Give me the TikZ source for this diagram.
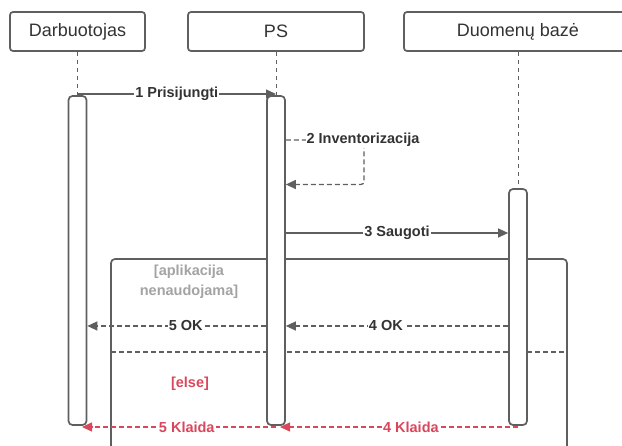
\documentclass[tikz,border=0pt]{standalone}
\usepackage{fontspec}
\setmainfont{Liberation Sans}
\usetikzlibrary{arrows.meta}
\definecolor{linegray}{HTML}{5F5F5F}
\definecolor{txtgray}{HTML}{333333}
\definecolor{guardgray}{HTML}{A3A3A3}
\definecolor{errred}{HTML}{D9475D}
\begin{document}
\begin{tikzpicture}[x=1pt,y=-1pt,
  headbox/.style={draw=linegray,line width=1.7pt,rounded corners=3pt,fill=white,
    minimum height=39pt,inner sep=0pt,text=txtgray,font=\fontsize{18}{20}\selectfont},
  actbar/.style={draw=linegray,line width=1.7pt,rounded corners=4pt,fill=white,
    minimum width=18pt,inner sep=0pt},
  lifeline/.style={draw=linegray,line width=0.9pt,dash pattern=on 4pt off 4pt},
  msg/.style={draw=linegray,line width=1.3pt,-{Triangle[length=10pt,width=9pt]}},
  retmsg/.style={msg,dash pattern=on 5pt off 3pt},
  errmsg/.style={draw=errred,line width=1.3pt,dash pattern=on 5pt off 3pt,
    -{Triangle[length=10pt,width=9pt]}},
  lbl/.style={fill=white,inner sep=1pt,text=txtgray,font=\bfseries\fontsize{14.5}{16}\selectfont},
  errlbl/.style={lbl,text=errred},
  guard/.style={align=center,inner sep=0pt,font=\bfseries\fontsize{14.5}{19.5}\selectfont}
]
\useasboundingbox (0,0) rectangle (622,446);
\clip (0,0) rectangle (622,446);

% participants
\node[headbox,minimum width=135pt] (hd) at (77.5,31.5) {Darbuotojas};
\node[headbox,minimum width=176pt] (hp) at (276,31.5) {PS};
\node[headbox,minimum width=228pt] (hb) at (518,31.5) {Duomenų bazė};

% message levels and helper points
\coordinate (y1) at (0,94);
\coordinate (y2a) at (0,140);
\coordinate (y2b) at (0,184.5);
\coordinate (loop) at (364,0);
\coordinate (y3) at (0,233);
\coordinate (y4) at (0,326);
\coordinate (ydiv) at (0,352);
\coordinate (y5) at (0,427);
\coordinate (lifeend) at (0,420);

% lifelines
\draw[lifeline] (hd.south) -- (hd.south |- lifeend);
\draw[lifeline] (hp.south) -- (hp.south |- lifeend);
\draw[lifeline] (hb.south) -- (hb.south |- lifeend);

% alt fragment
\draw[draw=linegray,line width=1.7pt,rounded corners=4pt] (111,259) rectangle (567,470);
\coordinate (fl) at (111,0);
\coordinate (fr) at (567,0);
\draw[draw=linegray,line width=1.3pt,dash pattern=on 5pt off 3pt] (fl |- ydiv) -- (fr |- ydiv);
\node[guard,text=guardgray] (g1) at (189,282) {[aplikacija\\nenaudojama]};
\node[guard,text=errred] (g2) at (190,384) {[else]};

% activation bars
\node[actbar,minimum height=329pt] (bd) at (77.5,260.5) {};
\node[actbar,minimum height=329pt] (bp) at (276,260.5) {};
\node[actbar,minimum height=236pt] (bb) at (518,307) {};

% 1 Prisijungti
\draw[msg] (bd.north |- y1) -- (bp.north |- y1)
  node[lbl,pos=0.5] (m1) {1 Prisijungti};

% 2 Inventorizacija (self call)
\draw[retmsg,rounded corners=3pt] (bp.east |- y2a) -- (loop |- y2a) -- (loop |- y2b) -- (bp.east |- y2b);
\node[lbl] (m2) at (363,140) {2 Inventorizacija};

% 3 Saugoti
\draw[msg] (bp.east |- y3) -- (bb.west |- y3)
  node[lbl,pos=0.5] (m3) {3 Saugoti};

% replies
\draw[retmsg] (bb.west |- y4) -- (bp.east |- y4)
  node[lbl,pos=0.55] (m4) {4 OK};
\draw[retmsg] (bp.west |- y4) -- (bd.east |- y4)
  node[lbl,pos=0.45] (m5) {5 OK};

% error replies
\draw[errmsg] (bb.south |- y5) -- ([xshift=4pt]bp.south |- y5)
  node[errlbl,pos=0.45] (e4) {4 Klaida};
\draw[errmsg] (bp.south |- y5) -- ([xshift=4.5pt]bd.south |- y5)
  node[errlbl,pos=0.46] (e5) {5 Klaida};
\end{tikzpicture}
\end{document}
